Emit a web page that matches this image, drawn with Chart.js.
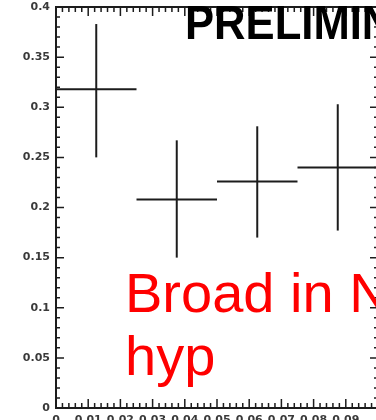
<!DOCTYPE html>
<html>
<head>
<meta charset="utf-8">
<script src="https://cdn.jsdelivr.net/npm/chart.js@4.4.0/dist/chart.umd.min.js"></script>
<style>
  html, body { margin: 0; padding: 0; background: #fff; overflow: hidden; width: 376px; height: 420px; }
  #wrap { position: relative; width: 376px; height: 420px; overflow: hidden; }
  #plot { position: absolute; left: 0; top: 0; }
  .prelim {
    position: absolute; left: 185px; top: -2px; white-space: nowrap;
    font: bold 49px "Liberation Sans", Arial, sans-serif; line-height: 49px;
    color: #000; transform: scaleX(0.89); transform-origin: 0 0;
  }
  .note {
    position: absolute; left: 125px; top: 261px; white-space: nowrap;
    font: 56px "Liberation Sans", Arial, sans-serif; line-height: 63px; color: #ff0000;
  }
</style>
</head>
<body>
<div id="wrap">
  <canvas id="plot" width="386" height="432"></canvas>
  <div class="prelim">PRELIMINARY</div>
  <div class="note">Broad in N<br>hyp</div>
</div>
<script>
// --- 数据 ---
const binLow  = [0, 0.025, 0.05, 0.075];
const binHigh = [0.025, 0.05, 0.075, 0.1];
const values  = [0.318, 0.208, 0.226, 0.240];
const errLow  = [0.250, 0.150, 0.170, 0.177];
const errHigh = [0.383, 0.267, 0.281, 0.303];

const yTicks = [0, 0.05, 0.1, 0.15, 0.2, 0.25, 0.3, 0.35, 0.4];
const xTicks = [0, 0.01, 0.02, 0.03, 0.04, 0.05, 0.06, 0.07, 0.08, 0.09];

const lineColor = '#1c1c1c';

// each bin -> one horizontal and one vertical segment
const datasets = [];
values.forEach((v, i) => {
  const mid = (binLow[i] + binHigh[i]) / 2;
  datasets.push({
    data: [{ x: binLow[i], y: v }, { x: binHigh[i], y: v }],
    showLine: true, borderColor: lineColor, borderWidth: 2, pointRadius: 0
  });
  datasets.push({
    data: [{ x: mid, y: errLow[i] }, { x: mid, y: errHigh[i] }],
    showLine: true, borderColor: lineColor, borderWidth: 2, pointRadius: 0
  });
});

// frame + inward ticks on all four sides
const frameTicks = {
  id: 'frameTicks',
  afterDraw(chart) {
    const { ctx, chartArea: a, scales: { x, y } } = chart;
    ctx.save();
    ctx.strokeStyle = lineColor;
    ctx.lineWidth = 1.5;
    for (let k = 0; k <= 40; k++) {
      const py = y.getPixelForValue(k * 0.01);
      const len = k % 5 === 0 ? 8 : 4;
      ctx.beginPath();
      ctx.moveTo(a.left, py); ctx.lineTo(a.left + len, py);
      ctx.moveTo(a.right, py); ctx.lineTo(a.right - len, py);
      ctx.stroke();
    }
    for (let k = 0; k <= 50; k++) {
      const px = x.getPixelForValue(k * 0.002);
      const len = k % 5 === 0 ? 9 : 5;
      ctx.beginPath();
      ctx.moveTo(px, a.bottom); ctx.lineTo(px, a.bottom - len);
      ctx.moveTo(px, a.top); ctx.lineTo(px, a.top + len);
      ctx.stroke();
    }
    ctx.lineWidth = 2;
    ctx.strokeRect(a.left, a.top, a.right - a.left, a.bottom - a.top);
    ctx.restore();
  }
};

const tickFont = { family: 'DejaVu Sans', size: 11, weight: 'bold' };

new Chart(document.getElementById('plot'), {
  type: 'scatter',
  data: { datasets },
  options: {
    responsive: false,
    animation: false,
    layout: { padding: { top: 7, right: 8, left: 0, bottom: 0 } },
    scales: {
      x: {
        type: 'linear', min: 0, max: 0.1,
        grid: { display: false, drawTicks: false, tickLength: 0 }, border: { display: false },
        afterFit: (s) => { s.height = 24; s.paddingLeft = 0; s.paddingRight = 0; },
        afterBuildTicks: (s) => { s.ticks = xTicks.map(v => ({ value: v })); },
        ticks: {
          color: '#3a3a3a', font: tickFont, padding: 6, maxRotation: 0, autoSkip: false,
          callback: (v) => (v === 0 ? '0' : v.toFixed(2))
        }
      },
      y: {
        type: 'linear', min: 0, max: 0.4,
        grid: { display: false, drawTicks: false, tickLength: 0 }, border: { display: false },
        afterFit: (s) => { s.width = 56; s.paddingTop = 0; s.paddingBottom = 0; },
        afterBuildTicks: (s) => { s.ticks = yTicks.map(v => ({ value: v })); },
        ticks: {
          color: '#3a3a3a', font: tickFont, padding: 6,
          callback: (v) => String(+v.toFixed(2))
        }
      }
    },
    plugins: { legend: { display: false }, tooltip: { enabled: false } }
  },
  plugins: [frameTicks]
});
</script>
</body>
</html>
